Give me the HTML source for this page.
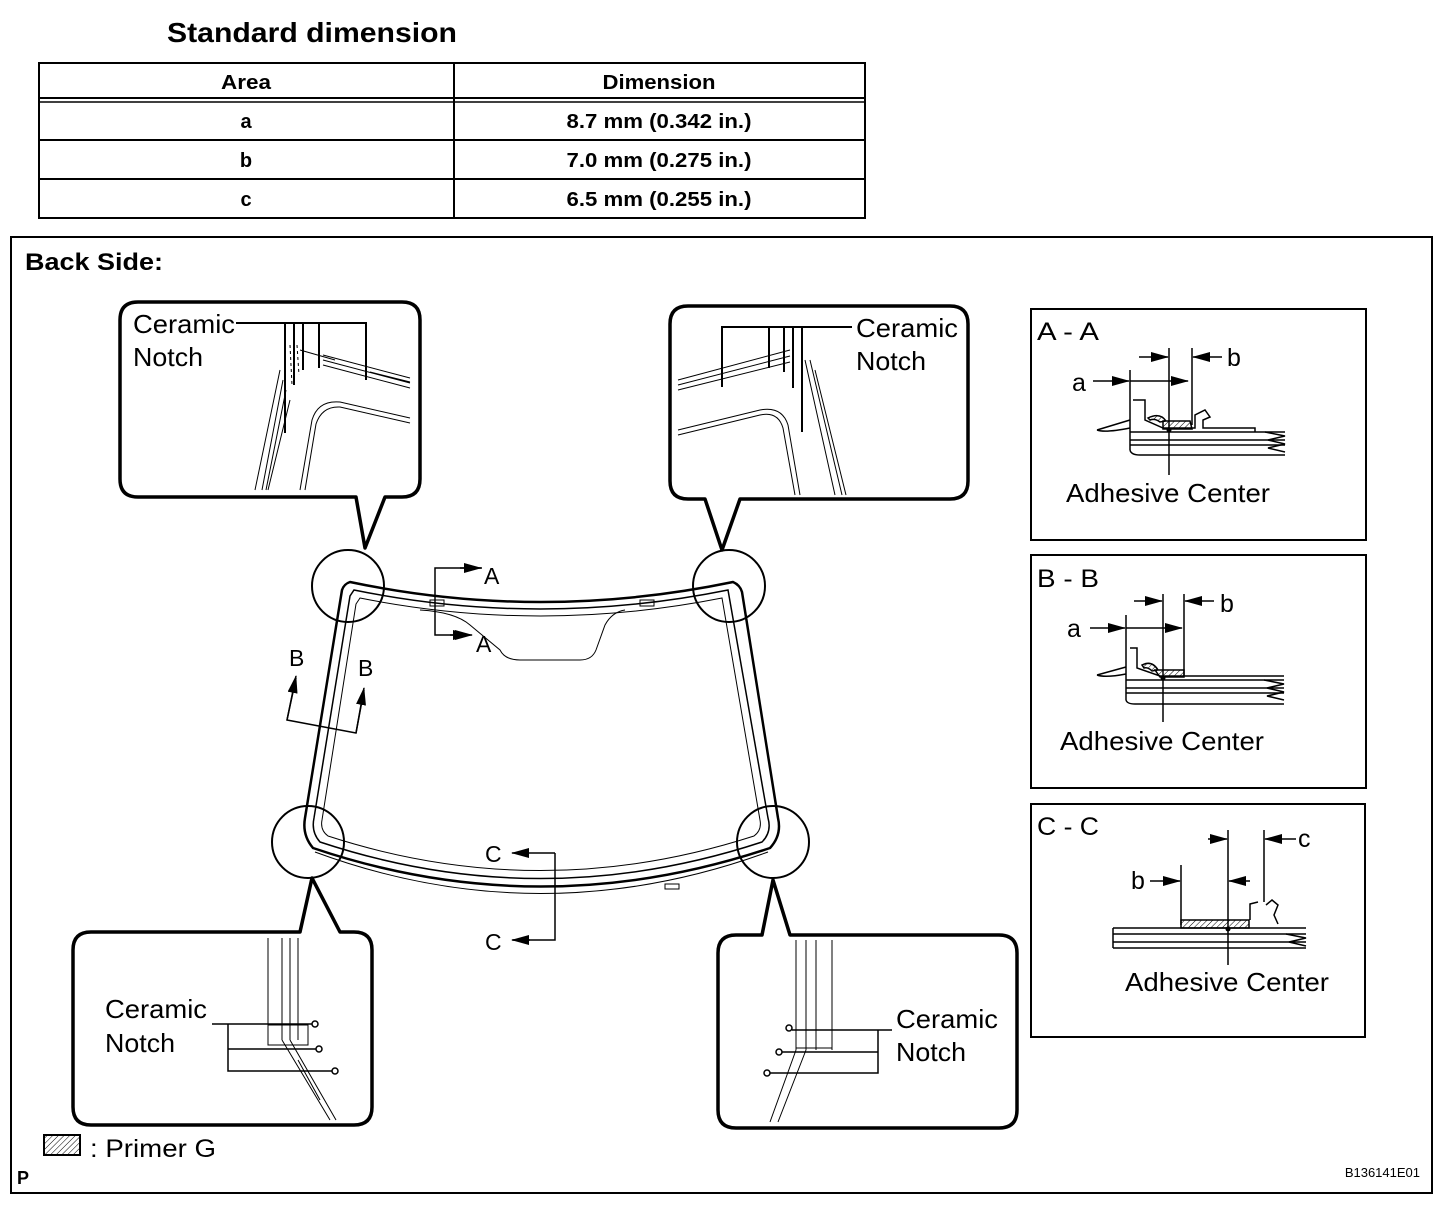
<!DOCTYPE html>
<html><head><meta charset="utf-8"><style>
html,body{margin:0;padding:0;background:#fff}
svg{display:block}
text{font-family:"Liberation Sans",Arial,sans-serif;fill:#000}
</style></head><body>
<svg width="1456" height="1206" viewBox="0 0 1456 1206" xmlns="http://www.w3.org/2000/svg">
<defs>
<marker id="ar2" markerWidth="18" markerHeight="10" refX="17" refY="5" orient="auto" markerUnits="userSpaceOnUse"><path d="M0,0 L18,5 L0,10 Z" fill="#000"/></marker>
<pattern id="hatch" width="4" height="4" patternUnits="userSpaceOnUse" patternTransform="rotate(45)"><line x1="0" y1="0" x2="0" y2="4" stroke="#000" stroke-width="1"/></pattern>
</defs>

<text x="167" y="42" font-size="28" font-weight="bold" textLength="290" lengthAdjust="spacingAndGlyphs">Standard dimension</text>
<g stroke="#000" fill="none" stroke-width="2">
<rect x="39" y="63" width="826" height="155"/>
<line x1="39" y1="98" x2="865" y2="98"/>
<line x1="39" y1="102" x2="865" y2="102" stroke-width="1.5"/>
<line x1="39" y1="140" x2="865" y2="140"/>
<line x1="39" y1="179" x2="865" y2="179"/>
<line x1="454" y1="63" x2="454" y2="218"/>
</g>
<g font-size="20" font-weight="bold" text-anchor="middle">
<text x="246" y="89" textLength="50" lengthAdjust="spacingAndGlyphs">Area</text><text x="659" y="89" textLength="113" lengthAdjust="spacingAndGlyphs">Dimension</text>
<text x="246" y="128">a</text><text x="659" y="128" textLength="185" lengthAdjust="spacingAndGlyphs">8.7 mm (0.342 in.)</text>
<text x="246" y="167">b</text><text x="659" y="167" textLength="185" lengthAdjust="spacingAndGlyphs">7.0 mm (0.275 in.)</text>
<text x="246" y="206">c</text><text x="659" y="206" textLength="185" lengthAdjust="spacingAndGlyphs">6.5 mm (0.255 in.)</text>
</g>

<rect x="11" y="237" width="1421" height="956" fill="none" stroke="#000" stroke-width="2"/>
<text x="25" y="270" font-size="24" font-weight="bold" textLength="138" lengthAdjust="spacingAndGlyphs">Back Side:</text>
<text x="17" y="1184" font-size="18" font-weight="bold">P</text>
<text x="1420" y="1177" font-size="13" text-anchor="end">B136141E01</text>
<rect x="44" y="1135" width="36" height="20" fill="url(#hatch)" stroke="#000" stroke-width="2"/>
<text x="90" y="1157" font-size="25" textLength="126" lengthAdjust="spacingAndGlyphs">: Primer G</text>

<g fill="none" stroke="#000">
<path d="M350,582 Q540,622 733,582 Q740,585 742,592 L778,818 Q782,835 770,848 Q540,925 313,848 Q302,835 305,818 L342,590 Q344,584 350,582 Z" stroke-width="2.5"/>
<path d="M354,590 Q540,628 728,590 L768,818 Q772,832 762,842 Q540,915 320,842 Q311,832 314,818 L350,596 Z" stroke-width="1.5"/>
<path d="M360,598 Q540,634 722,598 L760,820 Q762,830 754,836 Q540,905 328,836 Q320,830 322,820 L356,604 Z" stroke-width="1"/>
<path d="M315,852 Q540,935 768,852" stroke-width="1"/>
<path d="M420,610 Q455,612 470,625 L500,650 Q505,660 520,660 L580,660 Q592,660 596,650 L605,625 Q612,612 625,610" stroke-width="1"/>
<rect x="430" y="600" width="14" height="6" stroke-width="1"/>
<rect x="640" y="600" width="14" height="6" stroke-width="1"/>
<rect x="665" y="884" width="14" height="5" stroke-width="1"/>
</g>

<g stroke="#000" fill="none" stroke-width="1.5">
<polyline points="482,568 435,568 435,635 470,635" marker-end="url(#ar2)"/>
<polyline points="296,678 287,720 356,733 364,690"/>
<line x1="287" y1="720" x2="296" y2="676" marker-end="url(#ar2)"/>
<line x1="356" y1="733" x2="364" y2="688" marker-end="url(#ar2)"/>
<polyline points="555,853 555,940 513,940"/>
<line x1="555" y1="853" x2="512" y2="853" marker-end="url(#ar2)"/>
<line x1="530" y1="940" x2="512" y2="940" marker-end="url(#ar2)"/>
<line x1="460" y1="568" x2="481" y2="568" marker-end="url(#ar2)"/>
<line x1="450" y1="635" x2="472" y2="635" marker-end="url(#ar2)"/>
</g>
<g font-size="23">
<text x="484" y="584">A</text><text x="476" y="652">A</text>
<text x="289" y="666">B</text><text x="358" y="676">B</text>
<text x="485" y="862">C</text><text x="485" y="950">C</text>
</g>

<g fill="none" stroke="#000" stroke-width="2">
<circle cx="348" cy="586" r="36"/>
<circle cx="729" cy="586" r="36"/>
<circle cx="308" cy="842" r="36"/>
<circle cx="773" cy="842" r="36"/>
</g>

<g fill="#fff" stroke="#000" stroke-width="3.5" stroke-linejoin="round">
<path d="M138,302 L402,302 Q420,302 420,320 L420,479 Q420,497 402,497 L385,497 L365,548 L356,497 L138,497 Q120,497 120,479 L120,320 Q120,302 138,302 Z"/>
<path d="M688,306 L950,306 Q968,306 968,324 L968,481 Q968,499 950,499 L740,499 L722,550 L705,499 L688,499 Q670,499 670,481 L670,324 Q670,306 688,306 Z"/>
<path d="M91,932 L300,932 L312,878 L340,932 L354,932 Q372,932 372,950 L372,1107 Q372,1125 354,1125 L91,1125 Q73,1125 73,1107 L73,950 Q73,932 91,932 Z"/>
<path d="M736,935 L762,935 L773,880 L790,935 L999,935 Q1017,935 1017,953 L1017,1110 Q1017,1128 999,1128 L736,1128 Q718,1128 718,1110 L718,953 Q718,935 736,935 Z"/>
</g>

<g fill="none" stroke="#000" stroke-width="1">
<path d="M280,370 L255,490 M283,380 L262,490 M286,390 L266,490 M290,400 L268,490"/>
<path d="M300,350 L335,360 M323,355 L410,378 M323,360 L410,383 M323,365 L410,388 M370,372 L410,382"/>
<path d="M300,490 L312,420 Q318,400 340,402 L410,418 M305,490 L316,424 Q322,406 340,407 L410,423"/>
<line x1="290" y1="345" x2="292" y2="385" stroke-dasharray="3,3"/>
<line x1="297" y1="345" x2="299" y2="375" stroke-dasharray="3,3"/>
</g>
<g fill="none" stroke="#000" stroke-width="2">
<polyline points="236,323 366,323 366,380"/>
<line x1="285" y1="323" x2="285" y2="433"/>
<line x1="294" y1="323" x2="294" y2="385"/>
<line x1="303" y1="323" x2="303" y2="370"/>
<line x1="319" y1="323" x2="319" y2="368"/>
</g>
<text x="133" y="333" font-size="26" textLength="102" lengthAdjust="spacingAndGlyphs">Ceramic</text>
<text x="133" y="366" font-size="26" textLength="70" lengthAdjust="spacingAndGlyphs">Notch</text>

<g fill="none" stroke="#000" stroke-width="1">
<path d="M678,380 L790,350 M678,385 L790,356 M678,390 L790,362"/>
<path d="M678,430 L760,410 Q782,406 788,425 L800,495 M678,435 L760,415 Q778,411 783,428 L795,495"/>
<path d="M805,360 L835,495 M810,360 L842,495 M815,370 L846,495"/>
</g>
<g fill="none" stroke="#000" stroke-width="2">
<polyline points="852,327 722,327 722,387"/>
<line x1="769" y1="327" x2="769" y2="368"/>
<line x1="784" y1="327" x2="784" y2="372"/>
<line x1="793" y1="327" x2="793" y2="388"/>
<line x1="802" y1="327" x2="802" y2="432"/>
</g>
<text x="856" y="337" font-size="26" textLength="102" lengthAdjust="spacingAndGlyphs">Ceramic</text>
<text x="856" y="370" font-size="26" textLength="70" lengthAdjust="spacingAndGlyphs">Notch</text>

<g fill="none" stroke="#000" stroke-width="1">
<line x1="268" y1="938" x2="268" y2="1040"/><line x1="282" y1="938" x2="282" y2="1040"/>
<line x1="290" y1="938" x2="290" y2="1040"/><line x1="298" y1="938" x2="298" y2="1040"/>
<path d="M282,1040 L330,1120 M290,1040 L336,1120 M298,1060 L320,1100"/>
<rect x="268" y="1025" width="40" height="20"/>
</g>
<g fill="none" stroke="#000" stroke-width="1.5">
<polyline points="212,1024 312,1024"/><circle cx="315" cy="1024" r="3"/>
<polyline points="228,1024 228,1071 332,1071"/><circle cx="335" cy="1071" r="3"/>
<line x1="228" y1="1049" x2="316" y2="1049"/><circle cx="319" cy="1049" r="3"/>
</g>
<text x="105" y="1018" font-size="26" textLength="102" lengthAdjust="spacingAndGlyphs">Ceramic</text>
<text x="105" y="1052" font-size="26" textLength="70" lengthAdjust="spacingAndGlyphs">Notch</text>

<g fill="none" stroke="#000" stroke-width="1">
<line x1="796" y1="940" x2="796" y2="1050"/><line x1="806" y1="940" x2="806" y2="1050"/>
<line x1="816" y1="940" x2="816" y2="1050"/><line x1="832" y1="940" x2="832" y2="1050"/>
<path d="M796,1050 L770,1122 M806,1050 L778,1122"/>
<rect x="796" y="1030" width="36" height="18"/>
</g>
<g fill="none" stroke="#000" stroke-width="1.5">
<polyline points="892,1030 792,1030"/><circle cx="789" cy="1028" r="3"/>
<polyline points="878,1030 878,1073 770,1073"/><circle cx="767" cy="1073" r="3"/>
<line x1="878" y1="1052" x2="782" y2="1052"/><circle cx="779" cy="1052" r="3"/>
</g>
<text x="896" y="1028" font-size="26" textLength="102" lengthAdjust="spacingAndGlyphs">Ceramic</text>
<text x="896" y="1061" font-size="26" textLength="70" lengthAdjust="spacingAndGlyphs">Notch</text>

<rect x="1031" y="309" width="335" height="231" fill="none" stroke="#000" stroke-width="2"/>
<text x="1037" y="340" font-size="25" textLength="62" lengthAdjust="spacingAndGlyphs">A - A</text>
<g fill="none" stroke="#000" stroke-width="1.5">
<line x1="1130" y1="370" x2="1130" y2="450"/>
<line x1="1169" y1="348" x2="1169" y2="475"/>
<line x1="1192" y1="348" x2="1192" y2="425"/>
<line x1="1139" y1="357" x2="1168" y2="357" marker-end="url(#ar2)"/>
<line x1="1222" y1="357" x2="1193" y2="357" marker-end="url(#ar2)"/>
<line x1="1093" y1="381" x2="1129" y2="381" marker-end="url(#ar2)"/>
<line x1="1170" y1="381" x2="1188" y2="381" marker-end="url(#ar2)"/>
<line x1="1130" y1="381" x2="1170" y2="381"/>
<path d="M1097,430 L1130,420 M1097,430 Q1105,433 1130,428"/>
<path d="M1133,400 L1145,400 L1145,420 L1163,428 L1195,428 L1195,415 L1205,410 L1210,417 L1203,420 L1203,428 L1255,428 L1255,432 M1130,432 L1285,432"/>
<path d="M1130,440 L1285,440 M1130,445 L1285,445 M1130,450 Q1131,455 1140,455 L1285,455"/>
<path d="M1265,432 L1285,436 L1268,440 L1285,444 L1268,448 L1285,452"/>
</g>
<path d="M1163,421 L1190,421 L1192,429 L1163,429 Z M1148,418 Q1160,412 1166,421 L1160,422 Q1155,418 1150,420 Z" fill="url(#hatch)" stroke="#000" stroke-width="1.5"/>
<circle cx="1169" cy="430" r="2.5" fill="#000"/>
<text x="1072" y="391" font-size="25">a</text>
<text x="1227" y="366" font-size="25">b</text>
<text x="1066" y="502" font-size="26" textLength="204" lengthAdjust="spacingAndGlyphs">Adhesive Center</text>

<rect x="1031" y="555" width="335" height="233" fill="none" stroke="#000" stroke-width="2"/>
<text x="1037" y="587" font-size="25" textLength="62" lengthAdjust="spacingAndGlyphs">B - B</text>
<g fill="none" stroke="#000" stroke-width="1.5">
<line x1="1126" y1="615" x2="1126" y2="700"/>
<line x1="1163" y1="594" x2="1163" y2="722"/>
<line x1="1184" y1="594" x2="1184" y2="676"/>
<line x1="1134" y1="601" x2="1162" y2="601" marker-end="url(#ar2)"/>
<line x1="1214" y1="601" x2="1185" y2="601" marker-end="url(#ar2)"/>
<line x1="1090" y1="628" x2="1125" y2="628" marker-end="url(#ar2)"/>
<line x1="1126" y1="628" x2="1182" y2="628" marker-end="url(#ar2)"/>
<path d="M1097,675 L1126,667 M1097,675 Q1105,678 1126,674"/>
<path d="M1130,648 L1137,648 L1137,668 L1160,676 L1184,676 L1284,676 M1126,680 L1284,680"/>
<path d="M1126,688 L1284,688 M1126,693 L1284,693 M1126,700 Q1127,704 1135,704 L1284,704"/>
<path d="M1264,680 L1284,684 L1267,688 L1284,692 L1267,696 L1284,700"/>
</g>
<path d="M1155,670 L1184,670 L1184,677 L1160,677 Z M1142,665 Q1152,660 1158,670 L1152,671 Q1148,667 1144,668 Z" fill="url(#hatch)" stroke="#000" stroke-width="1.5"/>
<circle cx="1163" cy="678" r="2.5" fill="#000"/>
<text x="1067" y="637" font-size="25">a</text>
<text x="1220" y="612" font-size="25">b</text>
<text x="1060" y="750" font-size="26" textLength="204" lengthAdjust="spacingAndGlyphs">Adhesive Center</text>

<rect x="1031" y="804" width="334" height="233" fill="none" stroke="#000" stroke-width="2"/>
<text x="1037" y="835" font-size="25" textLength="62" lengthAdjust="spacingAndGlyphs">C - C</text>
<g fill="none" stroke="#000" stroke-width="1.5">
<line x1="1181" y1="865" x2="1181" y2="925"/>
<line x1="1228" y1="830" x2="1228" y2="965"/>
<line x1="1264" y1="830" x2="1264" y2="902"/>
<line x1="1208" y1="839" x2="1227" y2="839" marker-end="url(#ar2)"/>
<line x1="1296" y1="839" x2="1265" y2="839" marker-end="url(#ar2)"/>
<line x1="1150" y1="881" x2="1180" y2="881" marker-end="url(#ar2)"/>
<line x1="1250" y1="881" x2="1229" y2="881" marker-end="url(#ar2)"/>
<path d="M1113,928 L1306,928 M1113,934 L1306,934 M1113,942 L1306,942 M1113,948 L1306,948 M1113,928 L1113,948"/>
<path d="M1250,920 L1250,904 L1258,902 M1266,905 L1272,900 L1278,905 L1274,915 L1278,924"/>
<path d="M1286,934 L1306,938 L1289,942 L1306,946"/>
</g>
<rect x="1181" y="920" width="68" height="8" fill="url(#hatch)" stroke="#000" stroke-width="1.5"/>
<circle cx="1228" cy="929" r="2.5" fill="#000"/>
<text x="1131" y="889" font-size="25">b</text>
<text x="1298" y="847" font-size="25">c</text>
<text x="1125" y="991" font-size="26" textLength="204" lengthAdjust="spacingAndGlyphs">Adhesive Center</text>
</svg>
</body></html>
